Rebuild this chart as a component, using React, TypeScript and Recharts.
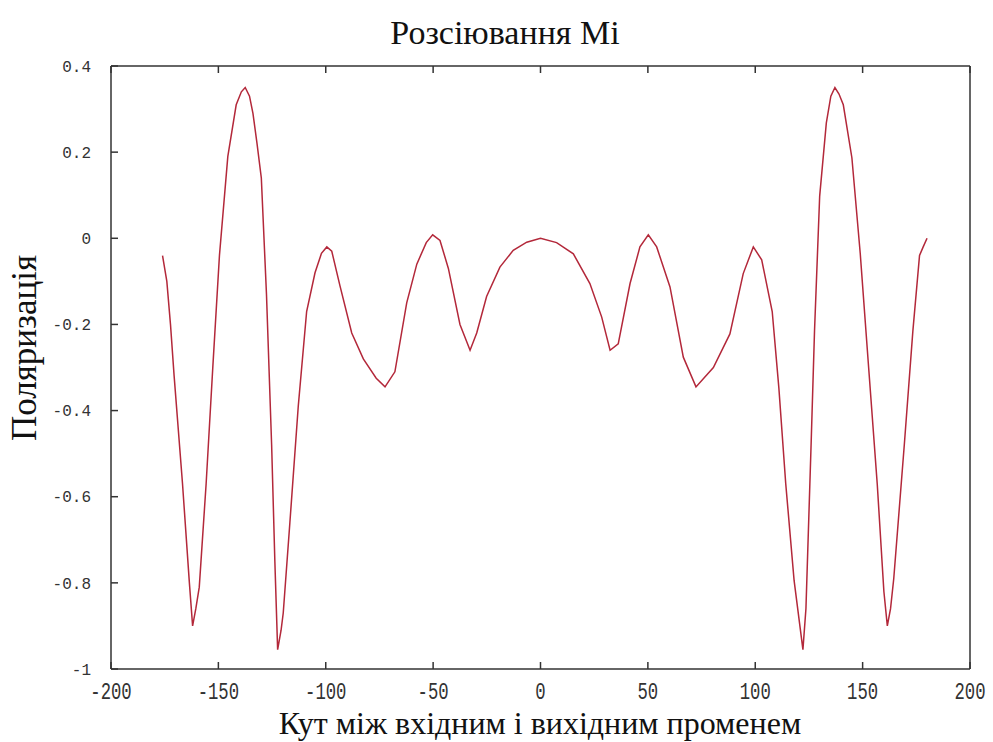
import { Label, Line, LineChart, XAxis, YAxis } from "recharts";

// scattering angle, degrees
const angles = [
  -176, -174, -172.3, -170.6, -166.7, -163.5, -162, -160.5, -158.9, -155.7,
  -152.6, -149.5, -145.6, -141.7, -139.3, -137.5, -135.5, -133.9, -132, -130,
  -127.6, -125.2, -123.7, -122.4, -120.8, -119.8, -116.7, -112.8, -108.9, -105,
  -102, -99.5, -97.2, -93.4, -87.9, -82.5, -76.5, -72.4, -67.8, -62.3,
  -57.6, -53.2, -50.2, -46.8, -42.9, -37.5, -32.8, -29.7, -25.1, -18.9,
  -12.7, -6.4, 0,
  7.5, 15.3, 23, 28.5, 32.4, 36.2, 41.7, 46.3, 50.2, 54.1,
  60.3, 66.5, 72.4, 80.5, 88.2, 94.4, 99.1, 103, 107.9, 111,
  114.2, 118.1, 122.2, 123.6, 126, 127.6, 130, 133.1, 135.2, 137.1,
  139, 141, 145, 148.9, 152.8, 156.8, 159.9, 161.5, 163, 164.5,
  169.4, 173.4, 176.5, 178.2, 180,
];

// polarization degree
const polarization = [
  -0.04, -0.1, -0.2, -0.32, -0.57, -0.8, -0.9, -0.86, -0.81, -0.57,
  -0.3, -0.04, 0.19, 0.31, 0.34, 0.35, 0.33, 0.29, 0.22, 0.14,
  -0.13, -0.48, -0.75, -0.955, -0.91, -0.87, -0.66, -0.39, -0.17, -0.08,
  -0.035, -0.02, -0.03, -0.11, -0.22, -0.28, -0.325, -0.345, -0.31, -0.15,
  -0.06, -0.01, 0.008, -0.005, -0.07, -0.2, -0.26, -0.22, -0.135, -0.067,
  -0.028, -0.009, 0,
  -0.01, -0.036, -0.105, -0.183, -0.26, -0.245, -0.105, -0.02, 0.008, -0.02,
  -0.113, -0.276, -0.345, -0.3, -0.222, -0.082, -0.02, -0.05, -0.17, -0.348,
  -0.57, -0.795, -0.955, -0.86, -0.48, -0.215, 0.098, 0.268, 0.33, 0.35,
  0.335, 0.31, 0.187, -0.036, -0.3, -0.57, -0.82, -0.9, -0.86, -0.79,
  -0.48, -0.215, -0.04, -0.02, 0,
];

const xTicks = [-200, -150, -100, -50, 0, 50, 100, 150, 200];
const yTicks = [-1, -0.8, -0.6, -0.4, -0.2, 0, 0.2, 0.4];

const title = "Розсіювання Мі";
const xTitle = "Кут між вхідним і вихідним променем";
const yTitle = "Поляризація";

const frame = "#333";
const mono = "Liberation Mono, Courier New, monospace";
const serif = "Liberation Serif, Times New Roman, serif";

// x labels in the original are tall and narrow, so squeeze a monospace face
function XTick(props: { x?: number; y?: number; payload?: { value: number } }) {
  const { x = 0, y = 0, payload } = props;
  return (
    <g transform={`translate(${x},${y})`}>
      <text transform="scale(0.72,1)" y={24} textAnchor="middle" fontFamily={mono} fontSize={24} fill="#333">
        {payload?.value}
      </text>
    </g>
  );
}

export default function App() {
  const data = angles.map((a, i) => ({ angle: a, p: polarization[i] }));

  return (
    <div style={{ position: "absolute", left: 0, top: 0, width: 993, height: 742, background: "#fff" }}>
      <LineChart width={993} height={742} data={data} margin={{ top: 65, right: 22, left: 0, bottom: 0 }}>
        <text x={505} y={44} textAnchor="middle" fontFamily={serif} fontSize={34} fill="#111">
          {title}
        </text>
        <XAxis
          dataKey="angle"
          type="number"
          domain={[-200, 200]}
          ticks={xTicks}
          height={73}
          tickSize={-7}
          tickMargin={13}
          stroke={frame}
          strokeWidth={1.5}
          tick={<XTick />}
          interval={0}
        >
          <Label
            content={() => (
              <text x={540} y={734} textAnchor="middle" fontFamily={serif} fontSize={32} fill="#111">
                {xTitle}
              </text>
            )}
          />
        </XAxis>
        <XAxis
          xAxisId="top"
          orientation="top"
          dataKey="angle"
          type="number"
          domain={[-200, 200]}
          ticks={xTicks}
          height={1}
          tickSize={-7}
          stroke={frame}
          strokeWidth={1.5}
          tickFormatter={() => ""}
          interval={0}
        />
        <YAxis
          type="number"
          domain={[-1, 0.4]}
          ticks={yTicks}
          width={111}
          tickSize={-7}
          tickMargin={27}
          stroke={frame}
          strokeWidth={1.5}
          tick={{ fontSize: 16, fill: "#333", fontFamily: mono }}
          interval={0}
        >
          <Label
            content={() => (
              <text
                transform="translate(36,348) rotate(-90)"
                textAnchor="middle"
                fontFamily={serif}
                fontSize={35}
                fill="#111"
              >
                {yTitle}
              </text>
            )}
          />
        </YAxis>
        <YAxis
          yAxisId="right"
          orientation="right"
          type="number"
          domain={[-1, 0.4]}
          ticks={yTicks}
          width={1}
          tickSize={-7}
          stroke={frame}
          strokeWidth={1.5}
          tickFormatter={() => ""}
          interval={0}
        />
        <Line
          type="linear"
          dataKey="p"
          stroke="#b3283a"
          strokeWidth={1.5}
          dot={false}
          isAnimationActive={false}
        />
      </LineChart>
    </div>
  );
}
